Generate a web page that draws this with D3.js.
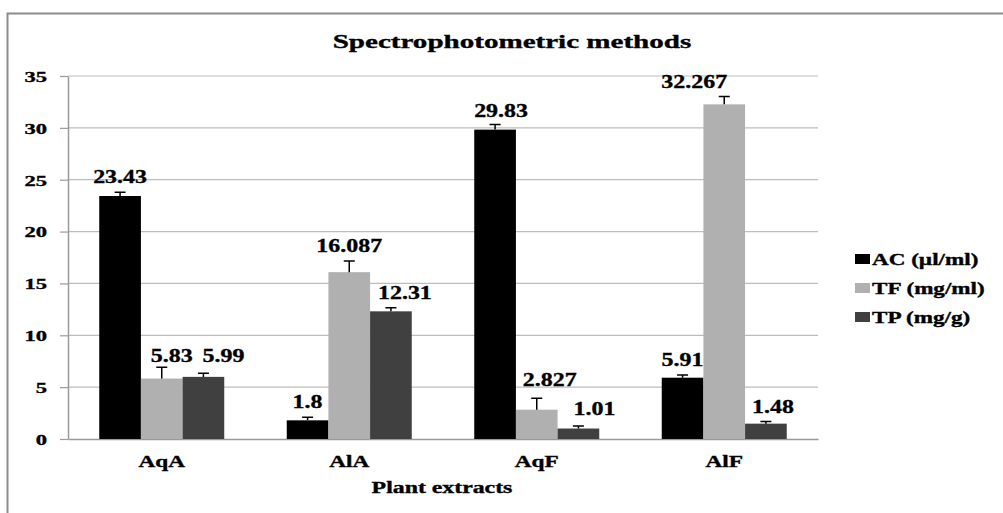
<!DOCTYPE html>
<html>
<head>
<meta charset="utf-8">
<script src="https://cdn.jsdelivr.net/npm/d3@7"></script>
<style>
  body { margin: 0; background: #fff; }
  svg text { font-family: "Liberation Serif", Tinos, "DejaVu Serif", serif; font-weight: 700; fill: #000; stroke: #000; stroke-width: 0.35px; }
</style>
</head>
<body>
<div id="grafico"></div>
<script>
// dados
const categorias = ["AqA", "AlA", "AqF", "AlF"];
const series = ["AC (µl/ml)", "TF (mg/ml)", "TP (mg/g)"];
const valoresAC = [23.43, 1.8, 29.83, 5.91];
const valoresTF = [5.83, 16.087, 2.827, 32.267];
const valoresTP = [5.99, 12.31, 1.01, 1.48];
const errosAC = [0.35, 0.3, 0.5, 0.25];
const errosTF = [1.1, 1.07, 1.1, 0.75];
const errosTP = [0.35, 0.35, 0.25, 0.2];
const rotulosAC = ["23.43", "1.8", "29.83", "5.91"];
const rotulosTF = ["5.83", "16.087", "2.827", "32.267"];
const rotulosTP = ["5.99", "12.31", "1.01", "1.48"];
const ticksY = [0, 5, 10, 15, 20, 25, 30, 35];

const cores = ["#000000", "#b0b0b0", "#404040"];
// deslocamento manual dos rotulos (como no original), [dx, dy] em px
const ajusteRotulos = [
  [[0, 0], [10, 4], [20, -2]],
  [[0, 0], [0, 0], [14, 0]],
  [[6, 2], [13, -3], [16, -2]],
  [[0, 0], [-30, 0], [7, 0]]
];

const largura = 1003, altura = 513;
const margem = {top: 76, right: 185, bottom: 74, left: 68};
const fonte = '"Liberation Serif", Tinos, "DejaVu Serif", serif';

const svg = d3.select("#grafico").append("svg")
  .attr("width", largura)
  .attr("height", altura)
  .attr("font-family", fonte)
  .attr("font-weight", 700);

// borda do grafico
svg.append("rect")
  .attr("x", 7.5).attr("y", 13.5)
  .attr("width", 1010).attr("height", 520)
  .attr("fill", "none").attr("stroke", "#8c8c8c").attr("stroke-width", 2);

const eixoX = d3.scaleBand().domain(categorias)
  .range([margem.left, largura - margem.right]).padding(0);
const subeixoX = d3.scaleBand().domain(series)
  .range([0, eixoX.bandwidth()]).paddingInner(0).paddingOuter(0.75);
const eixoY = d3.scaleLinear().domain([0, 35])
  .range([altura - margem.bottom, margem.top]);

// estica o texto na horizontal, como na imagem original
function esticar(sel, fator) {
  sel.each(function() {
    const w = this.getComputedTextLength();
    d3.select(this).attr("textLength", w * fator).attr("lengthAdjust", "spacingAndGlyphs");
  });
}

// linhas de grade
svg.append("g").selectAll("line")
  .data(ticksY.filter(t => t > 0))
  .join("line")
  .attr("x1", margem.left).attr("x2", largura - margem.right)
  .attr("y1", d => eixoY(d)).attr("y2", d => eixoY(d))
  .attr("stroke", "#bdbdbd").attr("stroke-width", 1.2);

// eixo Y
const gY = svg.append("g")
  .attr("transform", `translate(${margem.left},0)`)
  .call(d3.axisLeft(eixoY).tickValues(ticksY).tickSize(8).tickPadding(13).tickSizeOuter(0))
  .attr("font-family", fonte);
gY.select(".domain").attr("stroke", "#9a9a9a").attr("stroke-width", 1.5);
gY.selectAll(".tick line").attr("stroke", "#9a9a9a").attr("stroke-width", 1.2);
gY.selectAll(".tick text").attr("font-size", 15).attr("dy", "0.36em");
esticar(gY.selectAll(".tick text"), 1.5);

// eixo X
const gX = svg.append("g")
  .attr("transform", `translate(0,${eixoY(0)})`)
  .call(d3.axisBottom(eixoX).tickSize(0).tickPadding(0).tickSizeOuter(0))
  .attr("font-family", fonte);
gX.select(".domain").attr("stroke", "#9a9a9a").attr("stroke-width", 1.5);
gX.selectAll(".tick text").attr("font-size", 16.5).attr("dy", null).attr("y", 28);
esticar(gX.selectAll(".tick text"), 1.41);

// dados por serie
const valores = [valoresAC, valoresTF, valoresTP];
const erros = [errosAC, errosTF, errosTP];
const rotulos = [rotulosAC, rotulosTF, rotulosTP];

const dados = categorias.map((c, i) => ({
  categoria: c,
  barras: series.map((s, j) => ({
    serie: s, indice: j, cat: i,
    valor: valores[j][i], erro: erros[j][i], rotulo: rotulos[j][i]
  }))
}));

const grupos = svg.append("g").selectAll("g")
  .data(dados)
  .join("g")
  .attr("transform", d => `translate(${eixoX(d.categoria)},0)`);

// barras
grupos.selectAll("rect")
  .data(d => d.barras)
  .join("rect")
  .attr("x", d => subeixoX(d.serie))
  .attr("y", d => eixoY(d.valor))
  .attr("width", subeixoX.bandwidth())
  .attr("height", d => eixoY(0) - eixoY(d.valor))
  .attr("fill", d => cores[d.indice]);

// barras de erro (somente para cima)
const meio = subeixoX.bandwidth() / 2;
grupos.selectAll("path.erro")
  .data(d => d.barras)
  .join("path")
  .attr("class", "erro")
  .attr("d", d => {
    const cx = subeixoX(d.serie) + meio;
    const y0 = eixoY(d.valor), y1 = eixoY(d.valor + d.erro);
    return `M${cx},${y0}V${y1}M${cx - 5.5},${y1}H${cx + 5.5}`;
  })
  .attr("stroke", "#000").attr("stroke-width", 1.5).attr("fill", "none");

// rotulos dos valores
const rot = grupos.selectAll("text.rotulo")
  .data(d => d.barras)
  .join("text")
  .attr("class", "rotulo")
  .attr("x", d => subeixoX(d.serie) + meio + ajusteRotulos[d.cat][d.indice][0])
  .attr("y", d => eixoY(d.valor + d.erro) - 9 + ajusteRotulos[d.cat][d.indice][1])
  .attr("text-anchor", "middle")
  .attr("font-size", 19)
  .text(d => d.rotulo);
esticar(rot, 1.26);

// titulo
const titulo = svg.append("text")
  .attr("x", 512).attr("y", 48)
  .attr("text-anchor", "middle").attr("font-size", 19.5)
  .text("Spectrophotometric methods");
esticar(titulo, 1.49);

// titulo do eixo X
const tituloX = svg.append("text")
  .attr("x", 442).attr("y", 493)
  .attr("text-anchor", "middle").attr("font-size", 17)
  .text("Plant extracts");
esticar(tituloX, 1.4);

// legenda
const legenda = svg.append("g").attr("transform", "translate(855,0)")
  .selectAll("g")
  .data(series)
  .join("g")
  .attr("transform", (d, i) => `translate(0,${265 + i * 29})`);
legenda.append("rect")
  .attr("x", 0).attr("y", -11)
  .attr("width", 15).attr("height", 10)
  .attr("fill", (d, i) => cores[i]);
const textoLegenda = legenda.append("text")
  .attr("x", 17).attr("y", 0)
  .attr("font-size", 16.5)
  .text(d => d);
esticar(textoLegenda, 1.4);
</script>
</body>
</html>
